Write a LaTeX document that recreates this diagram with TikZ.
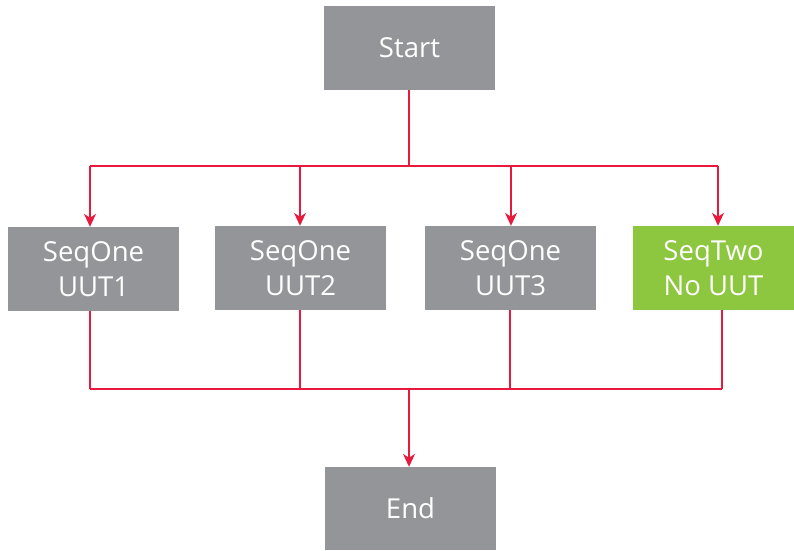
\documentclass[tikz,border=0pt]{standalone}
\usepackage{fontspec}
\setsansfont{Open Sans}
\usetikzlibrary{arrows.meta}
\definecolor{boxgray}{HTML}{939598}
\definecolor{boxgreen}{HTML}{8DC63F}
\definecolor{linered}{HTML}{E8193C}
\begin{document}
\begin{tikzpicture}[x=1pt,y=-1pt,
  box/.style={fill=boxgray, text=white, minimum width=171pt, minimum height=84pt,
    inner sep=0pt, font=\sffamily\fontsize{27.5}{35}\selectfont, align=center},
  conn/.style={draw=linered, line width=1.5pt},
  arr/.style={conn, -{Stealth[length=13pt,width=12pt,inset=4pt]}}]
\useasboundingbox (0,0) rectangle (794,550);
\node[box] (start) at (409.5,48) {Start};
\node[box] (s1) at (93.5,269) {SeqOne\\UUT1};
\node[box] (s2) at (300.5,268) {SeqOne\\UUT2};
\node[box] (s3) at (510.5,268) {SeqOne\\UUT3};
\node[box, fill=boxgreen, minimum width=161pt] (s4) at (713.5,268) {SeqTwo\\No UUT};
\node[box, minimum height=83pt] (end) at (410.5,508.5) {End};
\coordinate (t0) at (409,166);
\coordinate (t1) at (90,166);
\coordinate (t2) at (300,166);
\coordinate (t3) at (511,166);
\coordinate (t4) at (718,166);
\coordinate (b0) at (409,389);
\coordinate (b1) at (90,389);
\coordinate (b2) at (300,389);
\coordinate (b3) at (510,389);
\coordinate (b4) at (722,389);
\draw[conn] (t0 |- start.south) -- (t0);
\draw[conn] (t1) -- (t4);
\draw[arr] (t1) -- (t1 |- s1.north);
\draw[arr] (t2) -- (t2 |- s2.north);
\draw[arr] (t3) -- (t3 |- s3.north);
\draw[arr] (t4) -- (t4 |- s4.north);
\draw[conn] (b1 |- s1.south) -- (b1);
\draw[conn] (b2 |- s2.south) -- (b2);
\draw[conn] (b3 |- s3.south) -- (b3);
\draw[conn] (b4 |- s4.south) -- (b4);
\draw[conn] (b1) -- (b4);
\draw[arr] (b0) -- (b0 |- end.north);
\end{tikzpicture}
\end{document}
